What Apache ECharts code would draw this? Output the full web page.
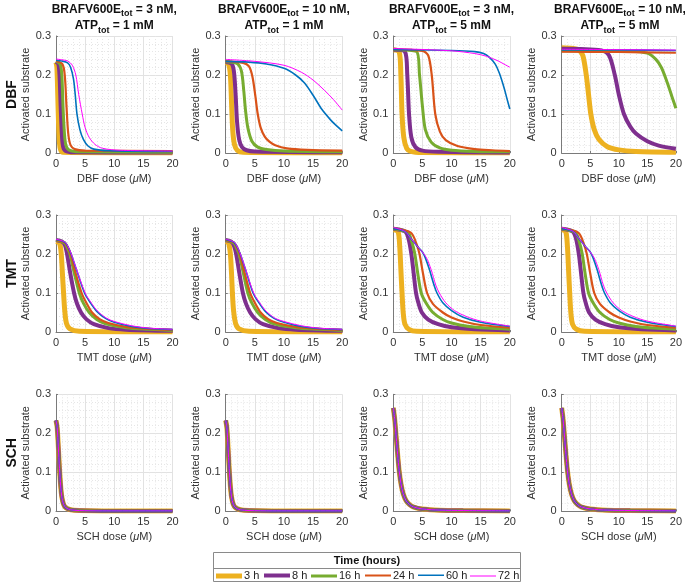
<!DOCTYPE html>
<html><head><meta charset="utf-8">
<script src="https://cdn.jsdelivr.net/npm/echarts@6/dist/echarts.min.js"></script>
<style>html,body{margin:0;padding:0;background:#fff}#c{width:685px;height:583px}</style>
</head><body><div id="c"></div>
<script>
const timeLabels = ['3 h','8 h','16 h','24 h','60 h','72 h'];
const drugs = ['DBF','TMT','SCH'];
const brafTot = [3,10,3,10];
const atpTot = [1,1,5,5];
const xTicks = [0,5,10,15,20];
const yTicks = [0,0.1,0.2,0.3];

// DBF, BRAF 3 nM, ATP 1 mM
const dbf1 = [
 [[0,0.232],[0.15,0.22],[0.3,0.15],[0.45,0.07],[0.6,0.025],[0.8,0.008],[1.2,0.002],[20,0]],
 [[0,0.234],[0.4,0.228],[0.6,0.2],[0.8,0.12],[1,0.05],[1.2,0.018],[1.6,0.006],[3,0.002],[20,0.001]],
 [[0,0.235],[0.7,0.228],[1,0.2],[1.2,0.12],[1.45,0.05],[1.7,0.02],[2.2,0.008],[4,0.003],[20,0.002]],
 [[0,0.236],[1.1,0.228],[1.5,0.2],[1.8,0.12],[2.1,0.05],[2.5,0.02],[3.2,0.01],[5,0.006],[20,0.005]],
 [[0,0.238],[1,0.236],[2,0.231],[2.5,0.22],[3,0.19],[3.3,0.15],[3.6,0.1],[4.1,0.06],[4.7,0.035],[5.5,0.018],[6.5,0.01],[9,0.006],[20,0.004]],
 [[0,0.241],[1,0.239],[2,0.236],[2.8,0.225],[3.4,0.2],[3.9,0.15],[4.5,0.1],[5,0.065],[5.7,0.04],[6.7,0.022],[8,0.012],[11,0.007],[20,0.005]]
];
// DBF, BRAF 10 nM, ATP 1 mM
const dbf2 = [
 [[0,0.232],[0.5,0.228],[0.8,0.2],[1.0,0.13],[1.2,0.06],[1.5,0.022],[2,0.007],[3,0.002],[20,0]],
 [[0,0.233],[1,0.229],[1.4,0.21],[1.7,0.15],[1.95,0.08],[2.3,0.035],[2.8,0.015],[3.6,0.007],[5,0.004],[20,0.002]],
 [[0,0.234],[2,0.229],[2.7,0.21],[3.1,0.16],[3.4,0.11],[3.8,0.065],[4.5,0.03],[5.5,0.015],[7,0.009],[10,0.005],[20,0.003]],
 [[0,0.235],[3,0.231],[4,0.222],[4.6,0.195],[5.1,0.145],[5.5,0.1],[6,0.065],[6.7,0.042],[7.5,0.029],[8.5,0.02],[10.5,0.012],[14,0.008],[20,0.006]],
 [[0,0.235],[4,0.233],[7,0.228],[10,0.217],[12,0.2],[13.5,0.18],[15,0.148],[16.5,0.112],[18,0.085],[19,0.07],[20,0.057]],
 [[0,0.24],[5,0.235],[10,0.225],[13,0.207],[15,0.187],[17,0.16],[18.5,0.137],[20,0.11]]
];
// DBF, BRAF 3 nM, ATP 5 mM
const dbf3 = [
 [[0,0.265],[1,0.26],[1.3,0.2],[1.5,0.1],[1.8,0.04],[2.3,0.012],[3,0.004],[5,0.001],[20,0]],
 [[0,0.265],[2,0.26],[2.4,0.2],[2.7,0.1],[3.1,0.04],[3.8,0.015],[5,0.006],[8,0.003],[20,0.001]],
 [[0,0.265],[4,0.26],[4.5,0.2],[5,0.12],[5.5,0.06],[6.5,0.028],[8,0.013],[10,0.007],[14,0.004],[20,0.003]],
 [[0,0.265],[5,0.262],[6,0.25],[6.6,0.2],[7.2,0.1],[8,0.055],[9,0.033],[11,0.018],[14,0.01],[17,0.007],[20,0.005]],
 [[0,0.265],[10,0.263],[14,0.26],[15.5,0.255],[16.5,0.245],[17.5,0.228],[18.2,0.205],[19,0.168],[19.5,0.14],[20,0.113]],
 [[0,0.268],[10,0.262],[14,0.255],[16,0.248],[18,0.236],[19,0.228],[20,0.22]]
];
// DBF, BRAF 10 nM, ATP 5 mM
const dbf4 = [
 [[0,0.27],[2,0.268],[3,0.264],[3.7,0.25],[4.3,0.2],[4.7,0.15],[5.1,0.1],[5.7,0.06],[6.5,0.035],[8,0.016],[10,0.008],[13,0.004],[20,0.002]],
 [[0,0.267],[7,0.263],[8.3,0.25],[9.3,0.2],[10,0.15],[10.9,0.1],[12,0.068],[13,0.05],[15,0.03],[17,0.019],[20,0.011]],
 [[0,0.262],[12,0.261],[15,0.256],[16.5,0.24],[17.5,0.218],[18.5,0.18],[19.3,0.145],[20,0.115]],
 [[0,0.26],[10,0.259],[20,0.257]],
 [[0,0.264],[10,0.264],[20,0.263]],
 [[0,0.266],[10,0.265],[20,0.264]]
];
// TMT, BRAF 3 nM, ATP 1 mM
const tmt1 = [
 [[0,0.232],[0.6,0.228],[0.9,0.2],[1.1,0.15],[1.3,0.1],[1.5,0.055],[1.8,0.022],[2.4,0.008],[4,0.002],[20,0]],
 [[0,0.236],[1,0.232],[1.5,0.224],[1.9,0.2],[2.4,0.155],[3.1,0.1],[3.6,0.073],[4.3,0.05],[5.2,0.033],[6.5,0.02],[9,0.01],[12,0.006],[20,0.003]],
 [[0,0.236],[1.5,0.228],[2,0.214],[2.4,0.2],[3,0.16],[4,0.1],[4.7,0.074],[5.7,0.05],[7,0.032],[8.5,0.021],[12,0.011],[16,0.007],[20,0.004]],
 [[0,0.236],[1.5,0.229],[2,0.218],[2.5,0.2],[3.2,0.16],[4.4,0.1],[5.2,0.075],[6.2,0.05],[7.5,0.033],[9,0.023],[12,0.013],[16,0.008],[20,0.005]],
 [[0,0.237],[1.5,0.23],[2,0.22],[2.6,0.2],[3.5,0.16],[4.9,0.1],[5.9,0.075],[7,0.053],[8.5,0.035],[10,0.025],[13,0.014],[16,0.009],[20,0.006]],
 [[0,0.238],[1.5,0.231],[2,0.221],[2.6,0.201],[3.5,0.162],[5.0,0.1],[6.0,0.076],[7.1,0.054],[8.6,0.036],[10,0.027],[13,0.016],[16,0.01],[20,0.007]]
];
// TMT, BRAF 10 nM, ATP 1 mM
const tmt2 = [
 [[0,0.232],[0.5,0.228],[0.8,0.2],[1.0,0.15],[1.15,0.1],[1.35,0.055],[1.7,0.022],[2.3,0.008],[4,0.002],[20,0]],
 [[0,0.236],[1,0.231],[1.4,0.222],[1.8,0.2],[2.3,0.155],[2.95,0.1],[3.5,0.072],[4.2,0.05],[5.1,0.033],[6.4,0.02],[9,0.01],[12,0.006],[20,0.003]],
 [[0,0.236],[1.4,0.228],[1.9,0.214],[2.3,0.2],[2.9,0.16],[3.8,0.1],[4.5,0.074],[5.5,0.05],[6.8,0.032],[8.3,0.021],[12,0.011],[16,0.007],[20,0.004]],
 [[0,0.236],[1.4,0.229],[1.9,0.218],[2.4,0.2],[3.1,0.16],[4.2,0.1],[5.0,0.075],[6.0,0.05],[7.3,0.033],[8.8,0.023],[12,0.013],[16,0.008],[20,0.005]],
 [[0,0.237],[1.4,0.23],[1.9,0.22],[2.5,0.2],[3.4,0.16],[4.7,0.1],[5.7,0.075],[6.8,0.053],[8.3,0.035],[10,0.025],[13,0.014],[16,0.009],[20,0.006]],
 [[0,0.238],[1.4,0.231],[1.9,0.221],[2.5,0.201],[3.4,0.162],[4.8,0.1],[5.8,0.076],[6.9,0.054],[8.4,0.036],[10,0.027],[13,0.016],[16,0.01],[20,0.007]]
];
// TMT, BRAF 3 nM, ATP 5 mM
const tmt3 = [
 [[0,0.262],[0.8,0.258],[1.1,0.22],[1.3,0.16],[1.5,0.1],[1.7,0.05],[2,0.02],[2.7,0.007],[4,0.002],[20,0]],
 [[0,0.265],[2,0.258],[2.6,0.24],[3.1,0.2],[3.5,0.15],[3.9,0.1],[4.3,0.075],[4.9,0.05],[6,0.032],[7.7,0.02],[10,0.012],[14,0.007],[20,0.004]],
 [[0,0.265],[2.5,0.255],[3.2,0.23],[3.7,0.2],[4.2,0.15],[4.8,0.1],[5.6,0.075],[6.8,0.05],[8.5,0.032],[10,0.023],[13,0.014],[16,0.01],[20,0.007]],
 [[0,0.265],[3,0.255],[4,0.225],[4.5,0.2],[5.1,0.15],[5.8,0.1],[6.8,0.072],[8.5,0.05],[10,0.037],[12,0.027],[15,0.018],[20,0.011]],
 [[0,0.265],[2,0.258],[3,0.24],[4,0.222],[5,0.205],[5.5,0.19],[6.2,0.16],[7,0.12],[7.5,0.1],[8.5,0.075],[10,0.055],[12,0.038],[15,0.025],[20,0.014]],
 [[0,0.268],[2,0.258],[3,0.24],[4,0.222],[5,0.205],[5.7,0.19],[6.5,0.16],[7.3,0.12],[7.9,0.1],[9,0.075],[10.5,0.055],[12.5,0.04],[15,0.028],[20,0.015]]
];
// TMT, BRAF 10 nM, ATP 5 mM
const tmt4 = [
 [[0,0.262],[0.7,0.258],[1.0,0.22],[1.2,0.16],[1.4,0.1],[1.6,0.05],[1.9,0.02],[2.6,0.007],[4,0.002],[20,0]],
 [[0,0.265],[1.9,0.258],[2.5,0.24],[3.0,0.2],[3.4,0.15],[3.8,0.1],[4.2,0.075],[4.8,0.05],[5.9,0.032],[7.6,0.02],[10,0.012],[14,0.007],[20,0.004]],
 [[0,0.265],[2.4,0.255],[3.1,0.23],[3.6,0.2],[4.1,0.15],[4.7,0.1],[5.5,0.075],[6.7,0.05],[8.4,0.032],[10,0.023],[13,0.014],[16,0.01],[20,0.007]],
 [[0,0.265],[2.9,0.255],[3.9,0.225],[4.4,0.2],[5.0,0.15],[5.7,0.1],[6.7,0.072],[8.4,0.05],[10,0.037],[12,0.027],[15,0.018],[20,0.011]],
 [[0,0.265],[2,0.258],[3,0.24],[4,0.222],[5,0.205],[5.5,0.19],[6.2,0.16],[7,0.12],[7.5,0.1],[8.5,0.075],[10,0.055],[12,0.038],[15,0.025],[20,0.014]],
 [[0,0.268],[2,0.258],[3,0.24],[4,0.222],[5,0.205],[5.7,0.19],[6.5,0.16],[7.3,0.12],[7.9,0.1],[9,0.075],[10.5,0.055],[12.5,0.04],[15,0.028],[20,0.015]]
];
// SCH (all time points overlap)
const schLowATP = [[0,0.233],[0.2,0.215],[0.4,0.165],[0.6,0.11],[0.8,0.065],[1,0.037],[1.3,0.018],[1.7,0.009],[2.5,0.004],[4,0.002],[8,0.001],[20,0.001]];
const schHighATP = [[0,0.265],[0.25,0.235],[0.5,0.19],[0.75,0.145],[1,0.105],[1.3,0.072],[1.7,0.045],[2.2,0.027],[2.8,0.017],[3.5,0.011],[5,0.006],[8,0.003],[12,0.002],[20,0.001]];
const sch1 = [schLowATP,schLowATP,schLowATP,schLowATP,schLowATP,schLowATP];
const sch2 = [schLowATP,schLowATP,schLowATP,schLowATP,schLowATP,schLowATP];
const sch3 = [schHighATP,schHighATP,schHighATP,schHighATP,schHighATP,schHighATP];
const sch4 = [schHighATP,schHighATP,schHighATP,schHighATP,schHighATP,schHighATP];

const panels = [[dbf1,dbf2,dbf3,dbf4],[tmt1,tmt2,tmt3,tmt4],[sch1,sch2,sch3,sch4]];

const colors = ['#EDB120','#7E2F8E','#77AC30','#D95319','#0072BD','#FF00FF'];
const widths = [5,4,3,2.2,1.6,1];
const legendWidths = [5,4,3,2,1.5,1];
const legendLeft = [216,264,311,365,418,470];
const colLeft = [56,225.7,393.3,561.7];
const rowTop = [36,215,394.3];
const W = 116.5, H = 117;
const FONT = 'Liberation Sans, Arial, Helvetica, sans-serif';

const grids=[], xAxes=[], yAxes=[], series=[];
let k=0;
for (let r=0;r<3;r++){
 for (let c=0;c<4;c++){
  grids.push({left:colLeft[c], top:rowTop[r], width:W, height:H, containLabel:false, show:false});
  xAxes.push({gridIndex:k, type:'value', min:xTicks[0], max:xTicks[xTicks.length-1], interval:xTicks[1]-xTicks[0],
   axisLine:{show:true,onZero:false,lineStyle:{color:'#7a7a7a',width:1}},
   axisTick:{show:true,inside:true,length:2,lineStyle:{color:'#7a7a7a'}},
   axisLabel:{fontSize:11,color:'#333',margin:5,fontFamily:FONT},
   splitLine:{show:true,lineStyle:{color:'#e2e2e2',width:1}},
   minorTick:{show:false,splitNumber:5},
   minorSplitLine:{show:true,lineStyle:{color:'#e6e6e6',width:1,type:[1,2]}},
   name: drugs[r]+' dose ({i|μ}M)', nameLocation:'middle', nameGap:20,
   nameTextStyle:{fontSize:11,color:'#333',fontFamily:FONT,rich:{i:{fontStyle:'italic',fontSize:11,color:'#333',fontFamily:FONT}}}
  });
  yAxes.push({gridIndex:k, type:'value', min:yTicks[0], max:yTicks[yTicks.length-1], interval:yTicks[1]-yTicks[0],
   axisLine:{show:true,onZero:false,lineStyle:{color:'#7a7a7a',width:1}},
   axisTick:{show:true,inside:true,length:2,lineStyle:{color:'#7a7a7a'}},
   axisLabel:{fontSize:11,color:'#333',margin:5,fontFamily:FONT,formatter:v=>v===0?'0':(+v).toFixed(1)},
   splitLine:{show:true,lineStyle:{color:'#e2e2e2',width:1}},
   minorTick:{show:false,splitNumber:5},
   minorSplitLine:{show:true,lineStyle:{color:'#e6e6e6',width:1,type:[1,2]}},
   name:'Activated substrate', nameLocation:'middle', nameGap:19, nameRotate:90,
   nameTextStyle:{fontSize:11,color:'#333',fontFamily:FONT}
  });
  const pd = panels[r][c];
  for (let i=0;i<6;i++){
   series.push({type:'line', name:timeLabels[i], xAxisIndex:k, yAxisIndex:k, data:pd[i],
    symbol:'none', smooth:0.3, clip:true,
    lineStyle:{width:widths[i],color:colors[i]}, itemStyle:{color:colors[i]}});
  }
  k++;
 }
}

const graphic=[];
const titleRich = {
 b:{fontSize:12,fontWeight:'bold',fontFamily:FONT,fill:'#111',color:'#111'},
 s:{fontSize:9,fontWeight:'bold',fontFamily:FONT,fill:'#111',color:'#111',padding:[9,0,0,0]}
};
for (let c=0;c<4;c++){
 const cx = colLeft[c]+W/2;
 graphic.push({type:'text', x:cx, y:9.5, style:{text:'{b|BRAFV600E}{s|tot}{b| = '+brafTot[c]+' nM,}', rich:titleRich, align:'center', verticalAlign:'middle', fill:'#111'}});
 graphic.push({type:'text', x:cx, y:26, style:{text:'{b|ATP}{s|tot}{b| = '+atpTot[c]+' mM}', rich:titleRich, align:'center', verticalAlign:'middle', fill:'#111'}});
}
for (let r=0;r<3;r++){
 graphic.push({type:'text', x:12, y:rowTop[r]+H/2, rotation:Math.PI/2,
  style:{text:drugs[r], font:'bold 14px '+FONT, align:'center', verticalAlign:'middle', fill:'#111'}});
}
// legend frame
graphic.push({type:'rect', shape:{x:213.5,y:552.5,width:307,height:29}, style:{fill:'#fff',stroke:'#8a8a8a',lineWidth:1}, z:-1});
graphic.push({type:'line', shape:{x1:213.5,y1:568.5,x2:520.5,y2:568.5}, style:{stroke:'#8a8a8a',lineWidth:1}});
graphic.push({type:'text', x:367, y:560.5, style:{text:'Time (hours)', font:'bold 11px '+FONT, align:'center', verticalAlign:'middle', fill:'#111'}});

// one legend entry per slot, icon = horizontal bar of the series line width
const legends = timeLabels.map((n,i)=>{
 const t = legendWidths[i], a = Math.round(5 - t/2), b = a + t;
 return {left:legendLeft[i], top:570, padding:0, itemWidth:26, itemHeight:10, selectedMode:false,
  textStyle:{fontSize:11,color:'#222',fontFamily:FONT,padding:[0,0,0,-3]},
  data:[{name:n, icon:'path://M0,0M26,10M0,'+a+'L26,'+a+'L26,'+b+'L0,'+b+'Z', itemStyle:{color:colors[i]}}]};
});

const chart = echarts.init(document.getElementById('c'), null, {renderer:'canvas'});
chart.setOption({
 animation:false,
 backgroundColor:'#fff',
 textStyle:{fontFamily:FONT},
 grid:grids, xAxis:xAxes, yAxis:yAxes, series:series, graphic:graphic,
 legend:legends
});
</script></body></html>
